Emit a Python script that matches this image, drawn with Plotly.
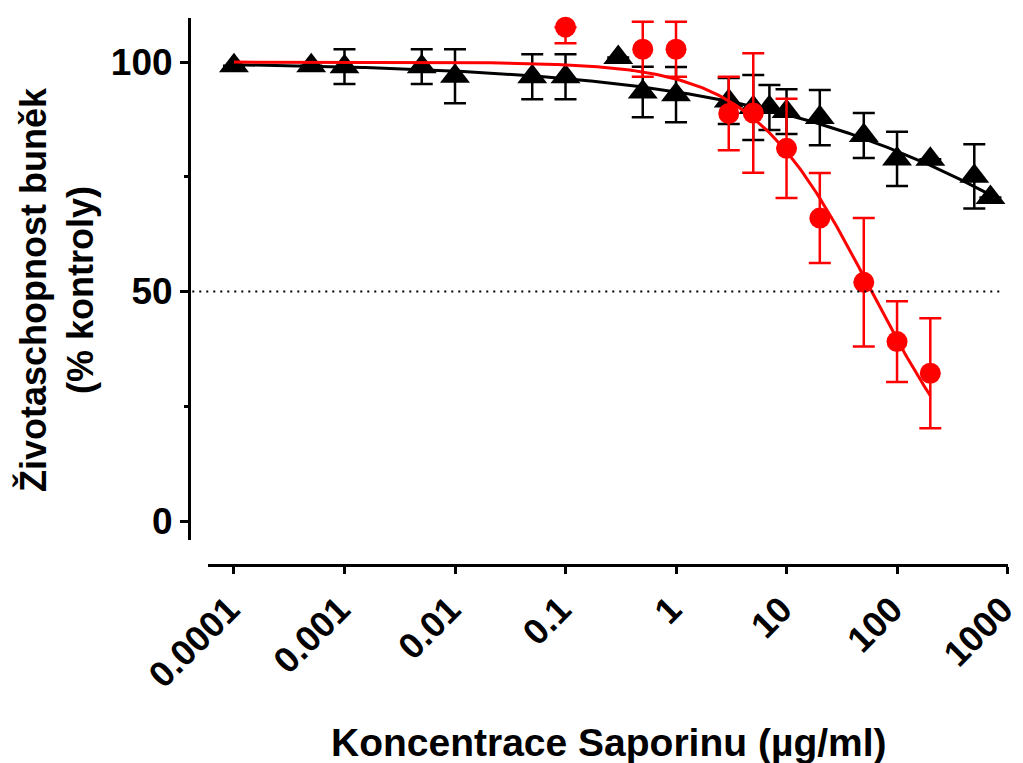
import numpy as np
import plotly.graph_objects as go

# Saporin concentration (µg/ml) and cell viability (% of control)
conc_black = [0.0001, 0.0005, 0.001, 0.005, 0.01, 0.05, 0.1, 0.3, 0.5, 1,
              3, 5, 7, 10, 20, 50, 100, 200, 500, 700]
viab_black = [99.2, 99.2, 99.0, 99.0, 96.9, 96.8, 96.8, 101.0, 93.5, 92.9,
              91.5, 90.1, 90.1, 89.2, 87.9, 84.0, 78.9, 78.8, 75.1, 70.5]
err_black = [0, 0, 3.8, 3.8, 5.9, 4.9, 4.9, 0, 5.5, 6.0,
             5.0, 7.1, 4.9, 4.9, 6.0, 4.9, 5.9, 0, 7.0, 0]

conc_red = [0.1, 0.5, 1, 3, 5, 10, 20, 50, 100, 200]
viab_red = [107.6, 102.8, 102.8, 88.8, 88.9, 81.2, 66.0, 52.0, 39.1, 32.2]
err_red_plus = [0, 6.0, 6.0, 8.0, 13.0, 10.8, 9.8, 14.0, 8.8, 12.0]
err_red_minus = [3.5, 6.0, 6.0, 8.0, 13.0, 10.8, 9.8, 14.0, 8.8, 12.0]

# four-parameter logistic fits: top, bottom, log10 EC50, Hill slope
fit_black = dict(top=100.0, bottom=0.0, log_ec50=4.29, hill=0.27, xmax=700)
fit_red = dict(top=100.0, bottom=0.0, log_ec50=1.77, hill=0.8, xmax=200)

x_tick_vals = [0.0001, 0.001, 0.01, 0.1, 1, 10, 100, 1000]
x_tick_text = ["0.0001", "0.001", "0.01", "0.1", "1", "10", "100", "1000"]
y_tick_vals = [0, 50, 100]
y_tick_text = ["0", "50", "100"]

x_title = "Koncentrace Saporinu (µg/ml)"
y_title = "Životaschopnost buněk<br>(% kontroly)"

FONT = "Liberation Sans, Arial, sans-serif"


def logistic_curve(p):
    xs = np.logspace(-4, np.log10(p["xmax"]), 300)
    ys = p["bottom"] + (p["top"] - p["bottom"]) / (1 + 10 ** ((np.log10(xs) - p["log_ec50"]) * p["hill"]))
    return xs, ys


fig = go.Figure()

bx, by = logistic_curve(fit_black)
fig.add_trace(go.Scatter(x=bx, y=by, mode="lines", line=dict(color="black", width=3),
                         hoverinfo="skip", cliponaxis=False))
fig.add_trace(go.Scatter(
    x=conc_black, y=viab_black, mode="markers",
    marker=dict(symbol="triangle-up", size=26, color="black", line=dict(width=0)),
    error_y=dict(type="data", array=err_black, visible=True, color="black",
                 thickness=2.5, width=11),
    cliponaxis=False))

rx, ry = logistic_curve(fit_red)
fig.add_trace(go.Scatter(x=rx, y=ry, mode="lines", line=dict(color="#FF0000", width=3),
                         hoverinfo="skip", cliponaxis=False))
fig.add_trace(go.Scatter(
    x=conc_red, y=viab_red, mode="markers",
    marker=dict(symbol="circle", size=21, color="#FF0000", line=dict(width=0)),
    error_y=dict(type="data", symmetric=False, array=err_red_plus, arrayminus=err_red_minus,
                 visible=True, color="#FF0000", thickness=2.5, width=11),
    cliponaxis=False))

# dotted 50 % reference line
fig.add_shape(type="line", xref="paper", yref="y", x0=0.004, x1=0.994, y0=50, y1=50,
              line=dict(color="black", width=2, dash="2px,5px"))

fig.update_layout(
    width=1023, height=763,
    margin=dict(l=189, r=15, t=18, b=198, autoexpand=False),
    paper_bgcolor="white", plot_bgcolor="white",
    showlegend=False,
    font=dict(family=FONT, color="black"),
    xaxis=dict(
        type="log", range=[-4.235, 3.004], domain=[0.0232, 1.0],
        anchor="free", position=0, automargin=False,
        showgrid=False, zeroline=False,
        showline=True, linecolor="black", linewidth=3,
        ticks="outside", ticklen=7, tickwidth=3, tickcolor="black",
        tickmode="array", tickvals=x_tick_vals, ticktext=x_tick_text,
        tickangle=-45, ticklabeloverflow="allow", ticklabelshift=-5,
        tickfont=dict(family=FONT, size=36, weight="bold", color="black"),
    ),
    yaxis=dict(
        range=[-4.14, 109.6], domain=[0.0457, 1.0],
        anchor="free", position=0, automargin=False,
        showgrid=False, zeroline=False,
        showline=True, linecolor="black", linewidth=3,
        ticks="outside", ticklen=8, tickwidth=3, tickcolor="black",
        tickmode="array", tickvals=y_tick_vals, ticktext=y_tick_text,
        tickfont=dict(family=FONT, size=37, weight="bold", color="black"),
        minor=dict(tickmode="array", tickvals=[25, 75], ticks="outside",
                   ticklen=4, tickwidth=3, tickcolor="black", showgrid=False),
    ),
    annotations=[
        dict(text=x_title, xref="paper", yref="paper", x=0.5128, y=-0.3254,
             xanchor="center", yanchor="middle", showarrow=False,
             font=dict(family=FONT, size=39, weight="bold", color="black")),
        dict(text=y_title, xref="paper", yref="paper", x=-0.1612, y=0.5046,
             xanchor="center", yanchor="middle", showarrow=False, textangle=-90,
             font=dict(family=FONT, size=36, weight="bold", color="black")),
    ],
)

fig.write_html("out.html")
